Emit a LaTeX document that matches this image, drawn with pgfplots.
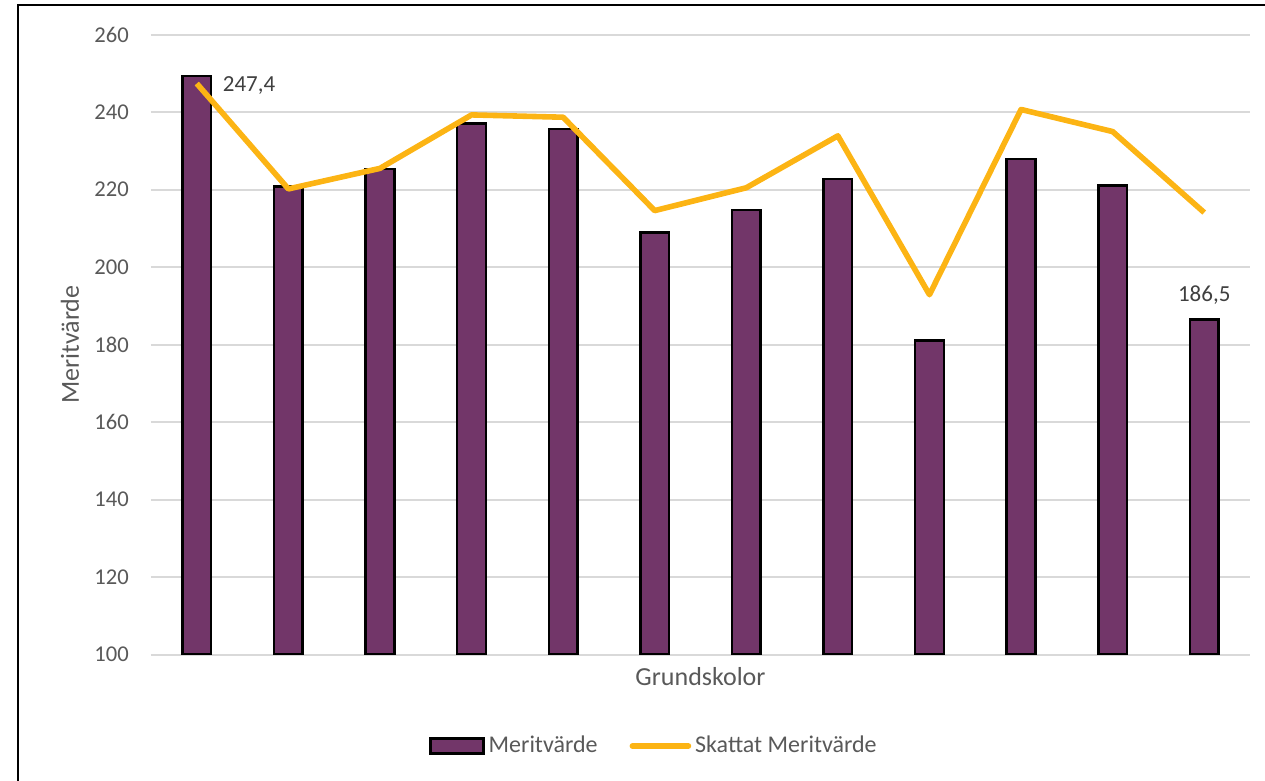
\documentclass[border=0pt]{standalone}
\usepackage{fontspec}
\setmainfont{Carlito}
\usepackage{pgfplots}
\pgfplotsset{compat=1.18}
\definecolor{barpurple}{RGB}{114,54,105}
\definecolor{lineorange}{RGB}{252,180,20}
\definecolor{gridgray}{RGB}{217,217,217}
\definecolor{textgray}{RGB}{89,89,89}
\definecolor{labelgray}{RGB}{64,64,64}
\begin{document}
\begin{tikzpicture}
\useasboundingbox (0,0) rectangle (632.5pt,390.5pt);
\draw[black, line width=1pt] (9.15pt,-5pt) -- (9.15pt,388pt) -- (640pt,388pt);
\begin{axis}[
  at={(75.5pt,63.15pt)}, anchor=south west,
  scale only axis, width=549.5pt, height=310pt,
  xmin=-0.5, xmax=11.5, ymin=100, ymax=260,
  ytick={100,120,...,260}, xtick=\empty,
  ymajorgrids, grid style={gridgray, line width=0.85pt},
  axis line style={draw=none}, major tick length=0pt,
  tick label style={font=\fontsize{11.3}{13}\selectfont, text=textgray},
  /pgf/number format/assume math mode=true,
  yticklabel style={anchor=east, xshift=-7.6pt},
  xlabel={Grundskolor}, ylabel={Meritvärde},
  every axis x label/.style={at={(axis description cs:0.5,-0.036)}, anchor=center, font=\fontsize{13}{15}\selectfont, text=textgray},
  every axis y label/.style={at={(axis description cs:-0.0737,0.5)}, anchor=center, rotate=90, font=\fontsize{13}{15}\selectfont, text=textgray},
  legend style={at={(0.4585,-0.1473)}, anchor=center, draw=none, fill=none, legend columns=2,
    font=\fontsize{12}{14}\selectfont, text=textgray,
    /tikz/every even column/.append style={column sep=14pt}},
  legend cell align=left,
]
\addplot[ybar, bar width=14.35pt, fill=barpurple, draw=black, line width=1.25pt,
  legend image code/.code={\draw[fill=barpurple,draw=black,line width=1.25pt] (0pt,-3.75pt) rectangle (26.5pt,3.75pt);}]
  coordinates {(0,249.3) (1,220.8) (2,225.3) (3,237.1) (4,235.6) (5,209.0) (6,214.8) (7,222.7) (8,181.1) (9,227.9) (10,221.1) (11,186.5)};
\addlegendentry{Meritvärde}
\addplot[lineorange, line width=2.8pt, line join=round, mark=none,
  legend image code/.code={\draw[lineorange, line width=2.8pt, line cap=round] (0pt,0pt) -- (28pt,0pt);}]
  coordinates {(0,247.4) (1,220.2) (2,225.5) (3,239.3) (4,238.7) (5,214.6) (6,220.5) (7,233.9) (8,192.9) (9,240.7) (10,235.0) (11,214.1)};
\addlegendentry{Skattat Meritvärde}
\node[anchor=west, text=labelgray, font=\fontsize{11.5}{13}\selectfont, xshift=9.5pt, yshift=-1pt] at (axis cs:0,247.4) {247,4};
\node[anchor=center, text=labelgray, font=\fontsize{11.5}{13}\selectfont, yshift=12.25pt] at (axis cs:11,186.5) {186,5};
\end{axis}
\end{tikzpicture}
\end{document}
